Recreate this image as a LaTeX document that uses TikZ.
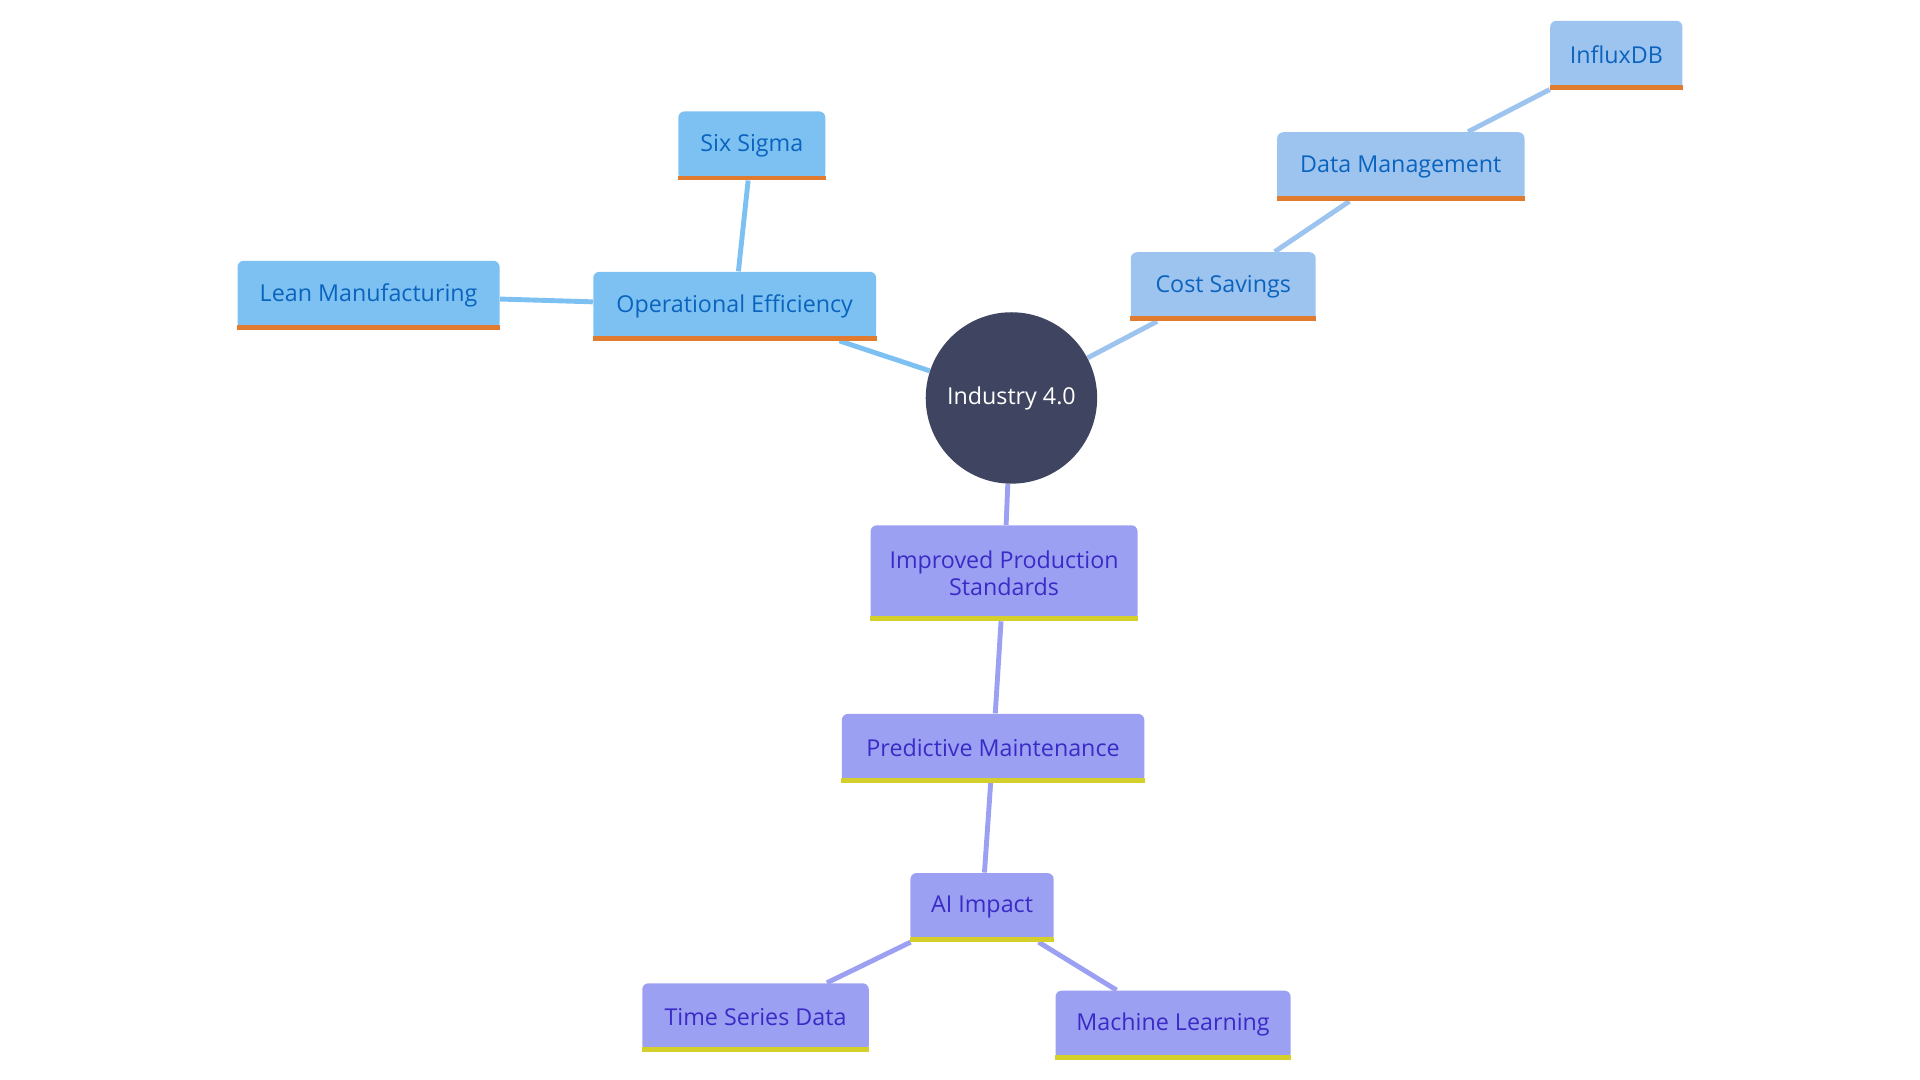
\documentclass[tikz,border=0pt]{standalone}
\usepackage{fontspec}
\setmainfont{Open Sans}
\usetikzlibrary{positioning,backgrounds}

\definecolor{hubfill}{HTML}{3F4560}
\definecolor{bluefill}{HTML}{7DC0F2}
\definecolor{palefill}{HTML}{9DC3EF}
\definecolor{bluetext}{HTML}{0A64BE}
\definecolor{purplefill}{HTML}{9CA0F2}
\definecolor{purpletext}{HTML}{3A2BC6}
\definecolor{orangebar}{HTML}{E07B30}
\definecolor{yellowbar}{HTML}{D4CF2A}

\tikzset{
  topic/.style={rectangle, rounded corners=2.5pt, inner sep=0pt, minimum height=28pt,
    font=\fontsize{9.5}{11}\selectfont, align=center},
  bluebox/.style={topic, fill=bluefill, text=bluetext},
  palebox/.style={topic, fill=palefill, text=bluetext},
  purplebox/.style={topic, fill=purplefill, text=purpletext},
  blueedge/.style={draw=bluefill, line width=2pt},
  paleedge/.style={draw=palefill, line width=2pt},
  purpleedge/.style={draw=purplefill, line width=2pt},
}

\begin{document}
\begin{tikzpicture}[x=0.5pt, y=-0.5pt]
  \useasboundingbox (0,0) rectangle (1568,882);

  % hub
  \node[circle, fill=hubfill, text=white, minimum size=70pt, inner sep=0pt,
    font=\fontsize{9.5}{11}\selectfont] (hub) at (826,325) {Industry 4.0};

  % operational branch
  \node[bluebox, minimum width=115.5pt] (opeff) at (600,250) {Operational Efficiency};
  \node[bluebox, minimum width=60pt] (sixsig) at (614,119) {Six Sigma};
  \node[bluebox, minimum width=107pt] (lean) at (301,241) {Lean Manufacturing};

  % cost branch
  \node[palebox, minimum width=75.5pt] (cost) at (999,234) {Cost Savings};
  \node[palebox, minimum width=101pt] (datamgmt) at (1144,136) {Data Management};
  \node[palebox, minimum width=54pt] (influx) at (1320,45) {InfluxDB};

  % production branch
  \node[purplebox, minimum width=109pt, minimum height=39pt] (improved) at (820,468)
    {Improved Production\\Standards};
  \node[purplebox, minimum width=123.5pt] (predict) at (811,611) {Predictive Maintenance};
  \node[purplebox, minimum width=58.5pt] (aiimpact) at (802,741) {AI Impact};
  \node[purplebox, minimum width=92.5pt] (timeser) at (617,831) {Time Series Data};
  \node[purplebox, minimum width=96pt] (machlearn) at (958,837) {Machine Learning};

  % bottom bars
  \foreach \n in {opeff,sixsig,lean,cost,datamgmt,influx}
    \draw[orangebar, line width=2pt] ([yshift=1pt]\n.south west) -- ([yshift=1pt]\n.south east);
  \foreach \n in {improved,predict,aiimpact,timeser,machlearn}
    \draw[yellowbar, line width=2pt] ([yshift=1pt]\n.south west) -- ([yshift=1pt]\n.south east);

  \begin{scope}[on background layer]
    \draw[blueedge] (hub) -- (opeff);
    \draw[blueedge] (opeff) -- (sixsig);
    \draw[blueedge] (opeff) -- (lean);
    \draw[paleedge] (hub) -- (cost);
    \draw[paleedge] (cost) -- (datamgmt);
    \draw[paleedge] (datamgmt) -- (influx);
    \draw[purpleedge] (hub) -- (improved);
    \draw[purpleedge] (improved) -- (predict);
    \draw[purpleedge] (predict) -- (aiimpact);
    \draw[purpleedge] (aiimpact) -- (timeser);
    \draw[purpleedge] (aiimpact) -- (machlearn);
  \end{scope}
\end{tikzpicture}
\end{document}
